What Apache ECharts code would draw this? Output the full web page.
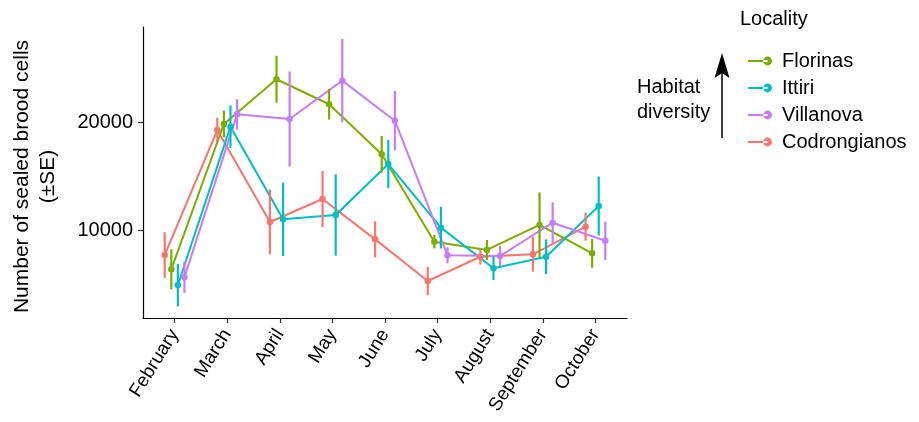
<!DOCTYPE html>
<html>
<head>
<meta charset="utf-8">
<script src="https://cdn.jsdelivr.net/npm/echarts@6/dist/echarts.min.js"></script>
<style>html,body{margin:0;padding:0;background:#fff}#chart{width:919px;height:422px}</style>
</head>
<body>
<div id="chart"></div>
<script>
const months = ['February','March','April','May','June','July','August','September','October'];
const localities = ['Codrongianos','Florinas','Ittiri','Villanova'];
const legendOrder = ['Florinas','Ittiri','Villanova','Codrongianos'];
const yTicks = [10000, 20000];

const codrongianosMean = [7670, 19320, 10750, 12890, 9130, 5250, 7510, 7740, 10310];
const codrongianosSE   = [2130, 1140, 3030, 2610, 1670, 1320, 730, 1630, 1310];
const florinasMean     = [6340, 19880, 24050, 21720, 17060, 8910, 8140, 10470, 7830];
const florinasSE       = [1860, 1240, 2190, 1430, 1710, 620, 930, 3030, 1350];
const ittiriMean       = [4870, 19630, 11000, 11400, 16150, 10220, 6430, 7510, 12240];
const ittiriSE         = [1980, 1990, 3420, 3790, 2250, 1940, 1090, 1620, 2750];
const villanovaMean    = [5590, 20780, 20350, 23920, 20190, 7640, 7580, 10680, 9000];
const villanovaSE      = [1450, 1420, 4430, 3880, 2760, 750, 930, 1910, 1790];

const means = [codrongianosMean, florinasMean, ittiriMean, villanovaMean];
const ses = [codrongianosSE, florinasSE, ittiriSE, villanovaSE];
const colors = ['#F8766D', '#7CAE00', '#00BFC4', '#C77CFF'];
const dodgeWidth = 0.5;
const FONT = 'Liberation Sans, Arial, Helvetica, sans-serif';

const series = [];
localities.forEach((name, i) => {
  const off = -dodgeWidth / 2 + dodgeWidth / localities.length * (i + 0.5);
  series.push({
    type: 'line', name: name,
    data: means[i].map((m, j) => [j + 1 + off, m]),
    symbol: 'circle', symbolSize: 6.5, showSymbol: true,
    lineStyle: { width: 2, color: colors[i] },
    itemStyle: { color: colors[i] },
    z: 2
  });
  series.push({
    type: 'custom',
    data: means[i].map((m, j) => [j + 1 + off, m - ses[i][j], m + ses[i][j]]),
    encode: { x: 0, y: [1, 2] },
    renderItem: (params, api) => {
      const x = api.value(0);
      const p1 = api.coord([x, api.value(1)]);
      const p2 = api.coord([x, api.value(2)]);
      return { type: 'line', shape: { x1: p1[0], y1: p1[1], x2: p2[0], y2: p2[1] },
               style: { stroke: colors[i], lineWidth: 2.2 } };
    },
    z: 3
  });
});

const chart = echarts.init(document.getElementById('chart'));
chart.setOption({
  animation: false,
  backgroundColor: '#fff',
  textStyle: { fontFamily: FONT },
  grid: { left: 143, right: 292, top: 27, bottom: 104 },
  title: { text: 'Locality', left: 735, top: 4,
           textStyle: { fontFamily: FONT, fontSize: 20, fontWeight: 'normal', color: '#000' } },
  legend: {
    data: legendOrder, orient: 'vertical', left: 743, top: 46,
    itemWidth: 24, itemHeight: 9, itemGap: 7,
    icon: 'path://M0,3.9 L20,3.9 L20,6.1 L0,6.1 Z M15.5,5 A4.5,4.5 0 1,0 24.5,5 A4.5,4.5 0 1,0 15.5,5 Z',
    textStyle: { fontFamily: FONT, fontSize: 20, color: '#000', padding: [0, 0, 0, 5] }
  },
  xAxis: {
    type: 'value', min: 0.4, max: 9.6,
    splitLine: { show: false },
    axisLine: { show: true, lineStyle: { color: '#000', width: 1.2 } },
    axisTick: { show: true, length: 5, customValues: months.map((m, k) => k + 1), lineStyle: { color: '#333', width: 1.2 } },
    axisLabel: {
      customValues: months.map((m, k) => k + 1),
      formatter: v => months[Math.round(v) - 1] || '',
      rotate: 58, fontSize: 19, color: '#000', margin: 13, fontFamily: FONT
    }
  },
  yAxis: {
    type: 'value', min: 1800, max: 28920,
    splitLine: { show: false },
    axisLine: { show: true, lineStyle: { color: '#000', width: 1.2 } },
    axisTick: { show: true, length: 5, customValues: yTicks, lineStyle: { color: '#333', width: 1.2 } },
    axisLabel: { customValues: yTicks, formatter: v => String(v), fontSize: 20, color: '#000', margin: 10, fontFamily: FONT },
    name: 'Number of sealed brood cells\n(±SE)',
    nameLocation: 'middle', nameRotate: 90, nameGap: 82,
    nameTextStyle: { fontSize: 21, color: '#000', lineHeight: 26, fontFamily: FONT, align: 'center', padding: [0, 8, 0, 0] }
  },
  graphic: [
    { type: 'line', shape: { x1: 722, y1: 138, x2: 722, y2: 72 }, style: { stroke: '#000', lineWidth: 1.5 } },
    { type: 'polygon', shape: { points: [[722, 53], [714.5, 78], [722, 73], [729.5, 78]] }, style: { fill: '#000' } },
    { type: 'text', x: 637, y: 74.5,
      style: { text: 'Habitat\ndiversity', font: '20px ' + FONT, fill: '#000', lineHeight: 25, verticalAlign: 'top' } }
  ],
  series: series
});
</script>
</body>
</html>
